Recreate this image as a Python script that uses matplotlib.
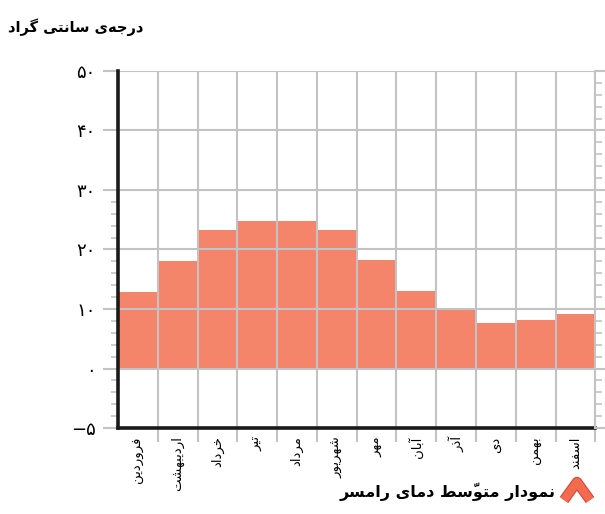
import matplotlib
matplotlib.use('Agg')
import matplotlib.pyplot as plt
from matplotlib.lines import Line2D
import matplotlib.patheffects as pe

# داده‌ها
months = ['فروردین', 'اردیبهشت', 'خرداد', 'تیر', 'مرداد', 'شهریور',
          'مهر', 'آبان', 'آذر', 'دی', 'بهمن', 'اسفند']
temps = [12.8, 18.1, 23.3, 24.8, 24.8, 23.3, 18.3, 13.1, 9.9, 7.7, 8.2, 9.1]
# in the source picture the "-5" label sits one full step below 0
y_ticks = [-10, 0, 10, 20, 30, 40, 50]
y_labels = ['−۵', '۰', '۱۰', '۲۰', '۳۰', '۴۰', '۵۰']
title = 'درجه\u200cی سانتی گراد'
caption = 'نمودار متوسّط دمای رامسر'

# matplotlib has no arabic shaping, so do it by hand
FORMS = {
    'ا': ('\uFE8D', '\uFE8E', None, None),
    'آ': ('\uFE81', '\uFE82', None, None),
    'ب': ('\uFE8F', '\uFE90', '\uFE91', '\uFE92'),
    'پ': ('\uFB56', '\uFB57', '\uFB58', '\uFB59'),
    'ت': ('\uFE95', '\uFE96', '\uFE97', '\uFE98'),
    'ج': ('\uFE9D', '\uFE9E', '\uFE9F', '\uFEA0'),
    'خ': ('\uFEA5', '\uFEA6', '\uFEA7', '\uFEA8'),
    'د': ('\uFEA9', '\uFEAA', None, None),
    'ذ': ('\uFEAB', '\uFEAC', None, None),
    'ر': ('\uFEAD', '\uFEAE', None, None),
    'ز': ('\uFEAF', '\uFEB0', None, None),
    'س': ('\uFEB1', '\uFEB2', '\uFEB3', '\uFEB4'),
    'ش': ('\uFEB5', '\uFEB6', '\uFEB7', '\uFEB8'),
    'ط': ('\uFEC1', '\uFEC2', '\uFEC3', '\uFEC4'),
    'ف': ('\uFED1', '\uFED2', '\uFED3', '\uFED4'),
    'گ': ('\uFB92', '\uFB93', '\uFB94', '\uFB95'),
    'م': ('\uFEE1', '\uFEE2', '\uFEE3', '\uFEE4'),
    'ن': ('\uFEE5', '\uFEE6', '\uFEE7', '\uFEE8'),
    'و': ('\uFEED', '\uFEEE', None, None),
    'ه': ('\uFEE9', '\uFEEA', '\uFEEB', '\uFEEC'),
    'ی': ('\uFBFC', '\uFBFD', '\uFBFE', '\uFBFF'),
}
MARKS = {'\u0651'}


def shape(text):
    n = len(text)
    clusters = []
    for i, ch in enumerate(text):
        if ch in MARKS:
            clusters[-1] += ch
            continue
        if ch == '\u200c':
            continue
        if ch not in FORMS:
            clusters.append(ch)
            continue
        j = i - 1
        while j >= 0 and text[j] in MARKS:
            j -= 1
        prev = j >= 0 and text[j] in FORMS and FORMS[text[j]][2] is not None
        k = i + 1
        while k < n and text[k] in MARKS:
            k += 1
        nxt = k < n and text[k] in FORMS and FORMS[ch][2] is not None
        iso, fin, ini, med = FORMS[ch]
        if prev and nxt:
            g = med
        elif prev:
            g = fin
        elif nxt:
            g = ini
        else:
            g = iso
        clusters.append(g)
    return ''.join(reversed(clusters))


grid_c = '#c3c3c5'

fig = plt.figure(figsize=(6.05, 5.14), dpi=100)
ax = fig.add_axes([0.195, 0.1673, 0.789, 0.6946])

x = list(range(len(months)))
ax.bar(x, temps, width=1.0, color='#f4846a', zorder=1)

ax.set_xlim(-0.5, len(months) - 0.5)
ax.set_ylim(-10, 50)

ax.set_yticks(y_ticks)
ax.set_yticklabels(y_labels, fontsize=13)
ax.set_yticks([v for v in range(-8, 30, 2) if v % 10 != 0], minor=True)
ax.set_xticks([i + 0.5 for i in x])
ax.set_xticklabels([])
ax.set_xticks(x, minor=True)
ax.set_xticklabels([shape(m) for m in months], minor=True, rotation=90,
                   fontsize=9.5, va='top')

ax.grid(True, which='major', color=grid_c, linewidth=1.5)
ax.set_axisbelow(False)
ax.tick_params(axis='y', which='major', length=11, width=1.5, color=grid_c, pad=5)
ax.tick_params(axis='y', which='minor', length=5, width=1.2, color=grid_c)
ax.tick_params(axis='x', which='major', length=10, width=1.5, color=grid_c)
ax.tick_params(axis='x', which='minor', length=0, pad=6)

for s in ['left', 'bottom']:
    ax.spines[s].set_color('#1a1a1a')
    ax.spines[s].set_linewidth(2.6)
    ax.spines[s].set_zorder(3)
ax.spines['top'].set_visible(False)
ax.spines['right'].set_visible(False)

# right side scale ticks
ax2 = ax.twinx()
ax2.set_ylim(-10, 50)
ax2.set_yticks(y_ticks)
ax2.set_yticklabels([])
ax2.set_yticks(range(-8, 50, 2), minor=True)
ax2.tick_params(axis='y', which='major', length=8, width=1.5, color=grid_c)
ax2.tick_params(axis='y', which='minor', length=5, width=1.2, color=grid_c)
for s in ['left', 'bottom', 'top']:
    ax2.spines[s].set_visible(False)
ax2.spines['right'].set_color(grid_c)
ax2.spines['right'].set_linewidth(1.5)

fig.text(0.013, 0.948, shape(title), ha='left', va='center',
         fontsize=10.5, fontweight='bold')
fig.text(0.918, 0.043, shape(caption), ha='right', va='center',
         fontsize=11.5, fontweight='bold')

# small arch icon next to the caption
icon = Line2D([564 / 605, 577 / 605, 590 / 605],
              [14 / 514, 32 / 514, 14 / 514], transform=fig.transFigure,
              color='#f26a50', linewidth=6, solid_joinstyle='round',
              solid_capstyle='butt',
              path_effects=[pe.Stroke(linewidth=7.5, foreground='#d9412e'), pe.Normal()])
fig.add_artist(icon)

fig.savefig('out.png', dpi=100)
